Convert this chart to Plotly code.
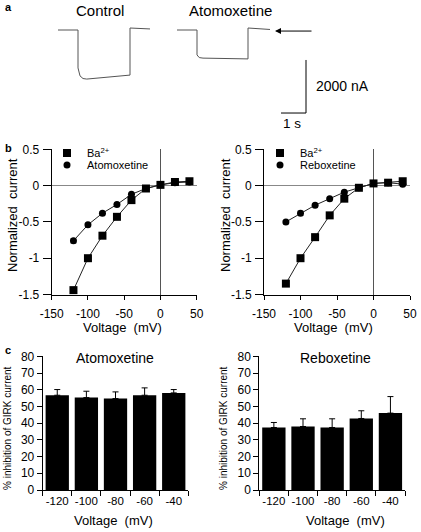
import plotly.graph_objects as go

W, H = 421, 532
FONT = "Liberation Sans, Arial, sans-serif"

# ---------------- data ----------------
# panel a: current traces (time in s, current in nA)
ctrl_t = [0.0, 0.8, 0.8, 0.88, 1.0, 1.15, 2.88, 2.88, 3.68]
ctrl_i = [0, 0, -1430, -1730, -1830, -1850, -1700, 75, 40]
atx_t = [4.76, 5.56, 5.56, 5.65, 5.8, 7.6, 7.6, 8.48]
atx_i = [0, 0, -940, -1040, -1060, -1090, 75, 20]

# panel b: I-V relations
volt = [-120, -100, -80, -60, -40, -20, 0, 20, 40]
ba_left = [-1.44, -1.0, -0.69, -0.43, -0.20, -0.04, 0.01, 0.05, 0.06]
atomox = [-0.76, -0.54, -0.38, -0.26, -0.12, -0.04, 0.01, 0.04, 0.05]
atomox_err = [0.03, 0.02, 0.02, 0.015, 0.01, 0.01, 0.01, 0.01, 0.01]
ba_right = [-1.35, -1.0, -0.71, -0.41, -0.18, -0.03, 0.03, 0.04, 0.06]
rebox = [-0.50, -0.38, -0.27, -0.18, -0.09, -0.03, 0.03, 0.04, 0.02]
rebox_err = [0.02, 0.03, 0.02, 0.01, 0.01, 0.01, 0.01, 0.01, 0.01]

# panel c: % inhibition
cats = ["-120", "-100", "-80", "-60", "-40"]
inh_atomox = [56.7, 55.3, 54.7, 56.7, 58.1]
inh_atomox_err = [3.4, 3.8, 4.0, 4.4, 2.0]
inh_rebox = [37.4, 38.0, 37.4, 42.8, 46.0]
inh_rebox_err = [3.0, 4.6, 5.2, 4.6, 9.9]

b_xticks = [-150, -100, -50, 0, 50]
b_yticks = [0.5, 0, -0.5, -1, -1.5]
c_yticks = [0, 10, 20, 30, 40, 50, 60, 70, 80]


def px(x):
    return x / W


def py(y):
    return 1 - y / H


fig = go.Figure()

# ---------------- panel a ----------------
fig.add_trace(go.Scatter(x=ctrl_t, y=ctrl_i, mode="lines", line=dict(color="#555", width=1),
                         xaxis="x5", yaxis="y5", showlegend=False, hoverinfo="skip"))
fig.add_trace(go.Scatter(x=atx_t, y=atx_i, mode="lines", line=dict(color="#555", width=1),
                         xaxis="x5", yaxis="y5", showlegend=False, hoverinfo="skip"))

# ---------------- panel b ----------------
def iv(xa, ya, ba, drug, drug_err, drug_name, leg_ba, leg_drug):
    fig.add_trace(go.Scatter(x=volt, y=ba, mode="lines", line=dict(color="#222", width=1),
                             xaxis=xa, yaxis=ya, showlegend=False, hoverinfo="skip", cliponaxis=False))
    fig.add_trace(go.Scatter(x=volt, y=drug, mode="lines", line=dict(color="#222", width=1),
                             xaxis=xa, yaxis=ya, showlegend=False, hoverinfo="skip", cliponaxis=False))
    fig.add_trace(go.Scatter(x=volt, y=ba, mode="markers", name="Ba<sup>2+</sup>",
                             marker=dict(symbol="square", size=8, color="black"),
                             xaxis=xa, yaxis=ya, legend=leg_ba, cliponaxis=False))
    fig.add_trace(go.Scatter(x=volt, y=drug, mode="markers", name=drug_name,
                             marker=dict(symbol="circle", size=7, color="black"),
                             error_y=dict(type="data", array=drug_err, color="#888", thickness=1, width=3),
                             xaxis=xa, yaxis=ya, legend=leg_drug, cliponaxis=False))


iv("x", "y", ba_left, atomox, atomox_err, "Atomoxetine", "legend", "legend2")
iv("x2", "y2", ba_right, rebox, rebox_err, "Reboxetine", "legend3", "legend4")

# ---------------- panel c ----------------
def bars(xa, ya, vals, errs):
    fig.add_trace(go.Bar(x=cats, y=vals, marker=dict(color="black", line=dict(width=0)),
                         error_y=dict(type="data", array=errs, arrayminus=[0] * len(errs),
                                      symmetric=False, color="black", thickness=1, width=3),
                         xaxis=xa, yaxis=ya, showlegend=False))


bars("x3", "y3", inh_atomox, inh_atomox_err)
bars("x4", "y4", inh_rebox, inh_rebox_err)

btick = dict(family=FONT, size=12, color="black")

bx = dict(range=[-150, 50], tickvals=b_xticks, ticktext=[str(v) for v in b_xticks],
          showline=True, linecolor="black", linewidth=1, ticks="outside", ticklen=4,
          ticklabelstandoff=4,
          tickcolor="black", showgrid=False, zeroline=True, zerolinecolor="#555",
          zerolinewidth=1, tickfont=btick, fixedrange=True)
by = dict(range=[-1.5, 0.5], tickvals=b_yticks, ticktext=["0.5", "0", "-0.5", "-1", "-1.5"],
          showline=True, linecolor="black", linewidth=1, ticks="outside", ticklen=8,
          ticklabelstandoff=1,
          tickcolor="black", showgrid=False, zeroline=True, zerolinecolor="#888",
          zerolinewidth=1, tickfont=btick, fixedrange=True)
cx = dict(type="category", showline=True, linecolor="black", linewidth=1, ticks="outside",
          tickson="boundaries", ticklen=5, tickcolor="black", showgrid=False, tickangle=0,
          tickfont=dict(family=FONT, size=11.5, color="black"), fixedrange=True)
cy = dict(range=[0, 80], tickvals=c_yticks, showline=True, linecolor="black", linewidth=1,
          ticks="outside", ticklen=5, tickcolor="black", showgrid=False, zeroline=False,
          tickfont=dict(family=FONT, size=12, color="black"), fixedrange=True)

b_ydom = [py(294.5), py(149.3)]
c_ydom = [py(490), py(356.3)]


def leg(x, y):
    return dict(x=px(x), y=py(y), xanchor="left", yanchor="middle", bgcolor="rgba(0,0,0,0)",
                font=dict(family=FONT, size=11), itemwidth=30, borderwidth=0)


fig.update_layout(
    width=W, height=H, margin=dict(l=0, r=0, t=0, b=0, pad=0, autoexpand=False),
    paper_bgcolor="white", plot_bgcolor="rgba(0,0,0,0)",
    font=dict(family=FONT, color="black"),
    bargap=0.2,
    xaxis=dict(domain=[px(51.7), px(196.7)], anchor="y", **bx),
    yaxis=dict(domain=b_ydom, anchor="x", **by),
    xaxis2=dict(domain=[px(264), px(410)], anchor="y2", **bx),
    yaxis2=dict(domain=b_ydom, anchor="x2", **by),
    xaxis3=dict(domain=[px(42.7), px(188.3)], anchor="y3", **cx),
    yaxis3=dict(domain=c_ydom, anchor="x3", **cy),
    xaxis4=dict(domain=[px(259.3), px(405)], anchor="y4", **cx),
    yaxis4=dict(domain=c_ydom, anchor="x4", **cy),
    xaxis5=dict(domain=[0, 1], anchor="y5", range=[-2.32, 421 / 25 - 2.32], visible=False,
                fixedrange=True),
    yaxis5=dict(domain=[py(135), 1], anchor="x5", range=[-105 * 37.7, 30 * 37.7], visible=False,
                fixedrange=True),
    legend=leg(47, 153),
    legend2=leg(47, 165),
    legend3=leg(260, 153),
    legend4=leg(260, 165),
)

# scale bar for panel a (1 s, 2000 nA)
fig.add_shape(type="line", xref="x5", yref="y5", x0=9.92, x1=9.92, y0=-1130, y1=-3130,
              line=dict(color="black", width=1))
fig.add_shape(type="line", xref="x5", yref="y5", x0=8.92, x1=9.92, y0=-3130, y1=-3130,
              line=dict(color="black", width=1))

ann = []


def text(x, y, s, size, angle=0, bold=False, xanchor="center"):
    ann.append(dict(x=px(x), y=py(y), xref="paper", yref="paper", text=("<b>%s</b>" % s) if bold else s,
                    showarrow=False, textangle=angle, xanchor=xanchor, yanchor="middle",
                    font=dict(family=FONT, size=size, color="black")))


text(3, 7, "a", 11, bold=True, xanchor="left")
text(3, 148, "b", 11, bold=True, xanchor="left")
text(3, 350, "c", 11, bold=True, xanchor="left")
text(100, 11, "Control", 15)
text(230, 11, "Atomoxetine", 15)
text(314, 86, "2000 nA", 14, xanchor="left")
text(292, 124, "1 s", 13.5)
text(12, 215, "Normalized  current", 13, angle=-90)
text(225, 215, "Normalized  current", 13, angle=-90)
text(123, 327, "Voltage  (mV)", 13)
text(333, 327, "Voltage  (mV)", 13)
text(115, 358, "Atomoxetine", 14)
text(335, 358, "Reboxetine", 14)
text(7, 428, "% inhibition of GIRK current", 10, angle=-90)
text(223, 428, "% inhibition of GIRK current", 10, angle=-90)
text(113, 520, "Voltage  (mV)", 13)
text(345, 520, "Voltage  (mV)", 13)

# arrow pointing to the baseline in panel a
ann.append(dict(x=8.68, y=-40, xref="x5", yref="y5", ax=38, ay=0, axref="pixel", ayref="pixel",
                text="", showarrow=True, arrowhead=2, arrowsize=1.2, arrowwidth=1, arrowcolor="black"))

fig.update_layout(annotations=ann)

fig.write_html("out.html", config={"displayModeBar": False},
               post_script="document.body.style.margin='0';document.body.style.overflow='hidden';")
